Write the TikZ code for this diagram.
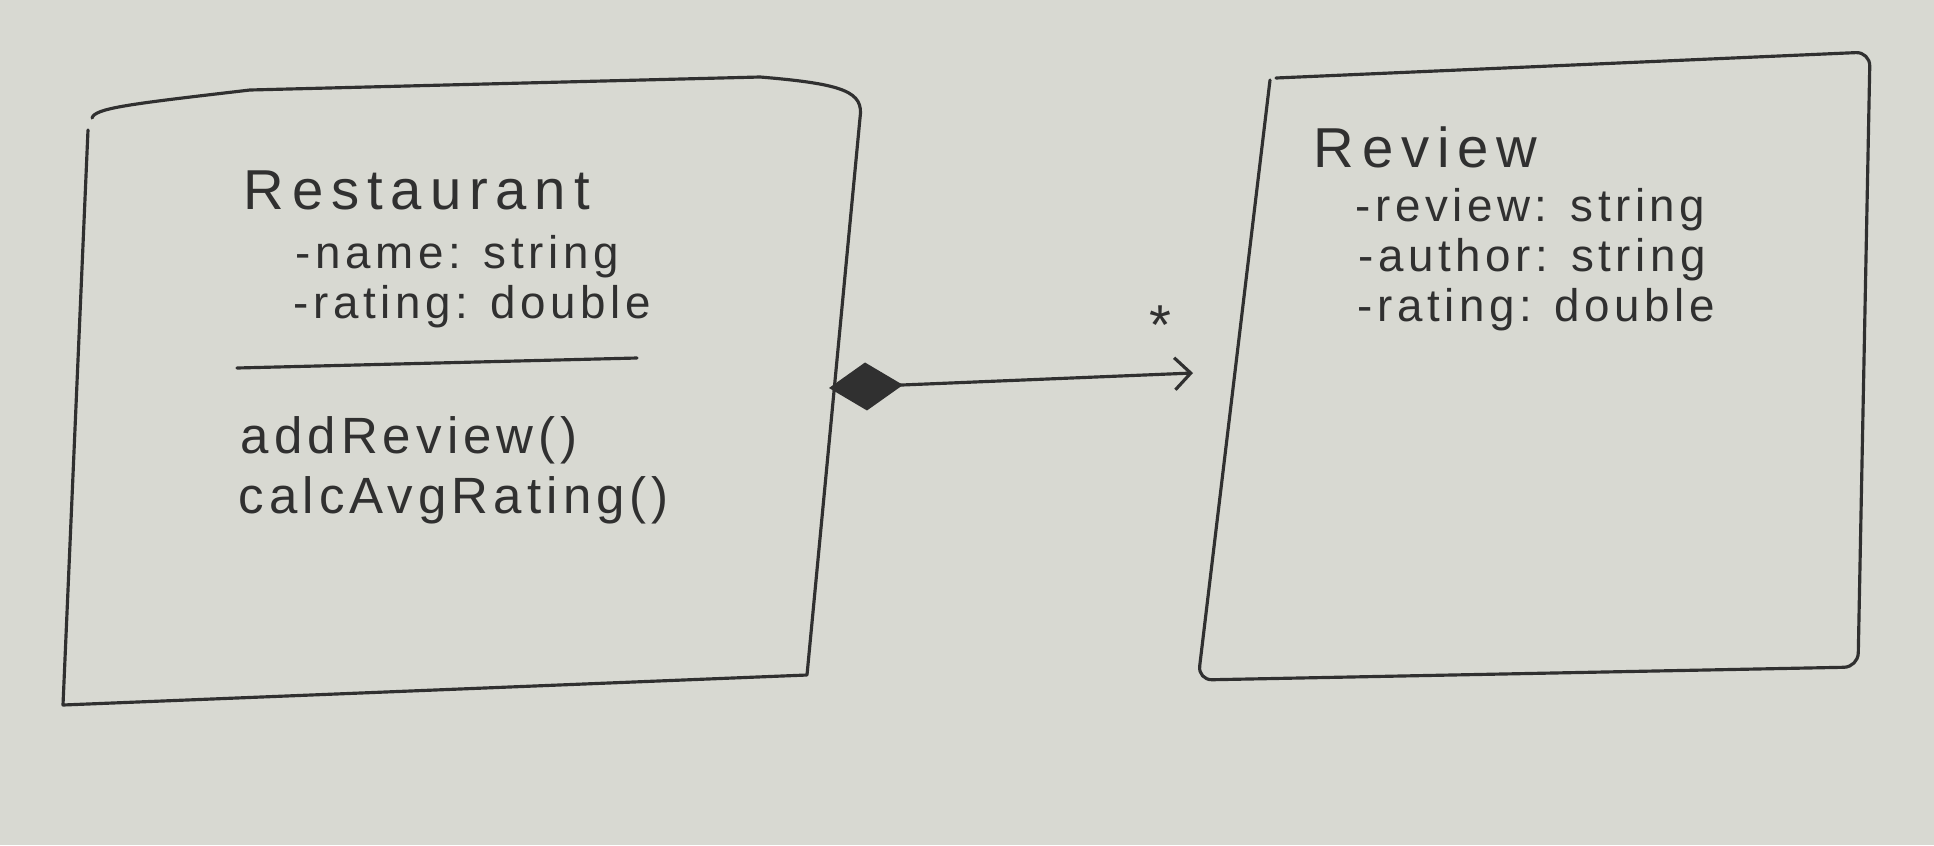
\documentclass[tikz,border=0pt]{standalone}
\usepackage{fontspec}
\setmainfont{Liberation Sans}
\newfontfamily\handT[LetterSpace=14]{Liberation Sans}
\newfontfamily\handA[LetterSpace=10]{Liberation Sans}
\newfontfamily\handM[LetterSpace=10]{Liberation Sans}
\usetikzlibrary{arrows.meta}
\definecolor{board}{RGB}{216,217,210}
\definecolor{ink}{RGB}{48,48,48}
\begin{document}
\begin{tikzpicture}[x=0.01cm,y=-0.01cm,
  edge/.style={draw=ink, line width=0.9pt, line join=round, line cap=round},
  title/.style={anchor=west, inner sep=0pt, text=ink, font=\handT\fontsize{16}{19}\selectfont},
  attr/.style={anchor=west, inner sep=0pt, text=ink, font=\handA\fontsize{13}{16}\selectfont},
  meth/.style={anchor=west, inner sep=0pt, text=ink, font=\handM\fontsize{14.5}{17}\selectfont},
  mult/.style={inner sep=0pt, text=ink, font=\fontsize{16}{18}\selectfont}
]
\fill[board] (0,0) rectangle (1934,845);
\useasboundingbox (0,0) rectangle (1934,845);

% Restaurant box
\coordinate (rLT) at (88,130);
\coordinate (rTL) at (92,118);
\coordinate (rTR) at (860,118);
\coordinate (rBR) at (807,675);
\coordinate (rBL) at (63,705);
\draw[edge] (rLT) -- (rBL) -- (rBR) -- (rTR)
  .. controls (864,92) and (845,84) .. (760,77)
  -- (250,90) .. controls (130,104) and (95,108) .. (rTL);
\node[title] (rname) at (243,190) {Restaurant};
\node[attr] (ra1) at (295,257) {-name: string};
\node[attr] (ra2) at (293,307) {-rating: double};
\coordinate (sepL) at (237,368);
\coordinate (sepR) at (637,358);
\draw[edge] (sepL) -- (sepR);
\node[meth] (rm1) at (240,440) {addReview()};
\node[meth] (rm2) at (238,500) {calcAvgRating()};

% Review box
\coordinate (vTL) at (1270,80);
\coordinate (vTR) at (1870,52);
\coordinate (vBR) at (1858,667);
\coordinate (vBL) at (1198,680);
\draw[edge, rounded corners=4] (vTL) -- (vBL) -- (vBR) -- (vTR) -- (1276,78);
\node[title] (vname) at (1313,147) {Review};
\node[attr] (va1) at (1355,210) {-review: string};
\node[attr] (va2) at (1358,260) {-author: string};
\node[attr] (va3) at (1357,310) {-rating: double};

% composition
\coordinate (dstart) at (829,388);
\coordinate (aend) at (1193,373);
\draw[edge, {Diamond[length=0.74cm,width=0.48cm,fill=ink]}-{Straight Barb[length=0.16cm,width=0.32cm]}] (dstart) -- (aend);
\node[mult] (star) at (1160,325) {*};
\end{tikzpicture}
\end{document}
